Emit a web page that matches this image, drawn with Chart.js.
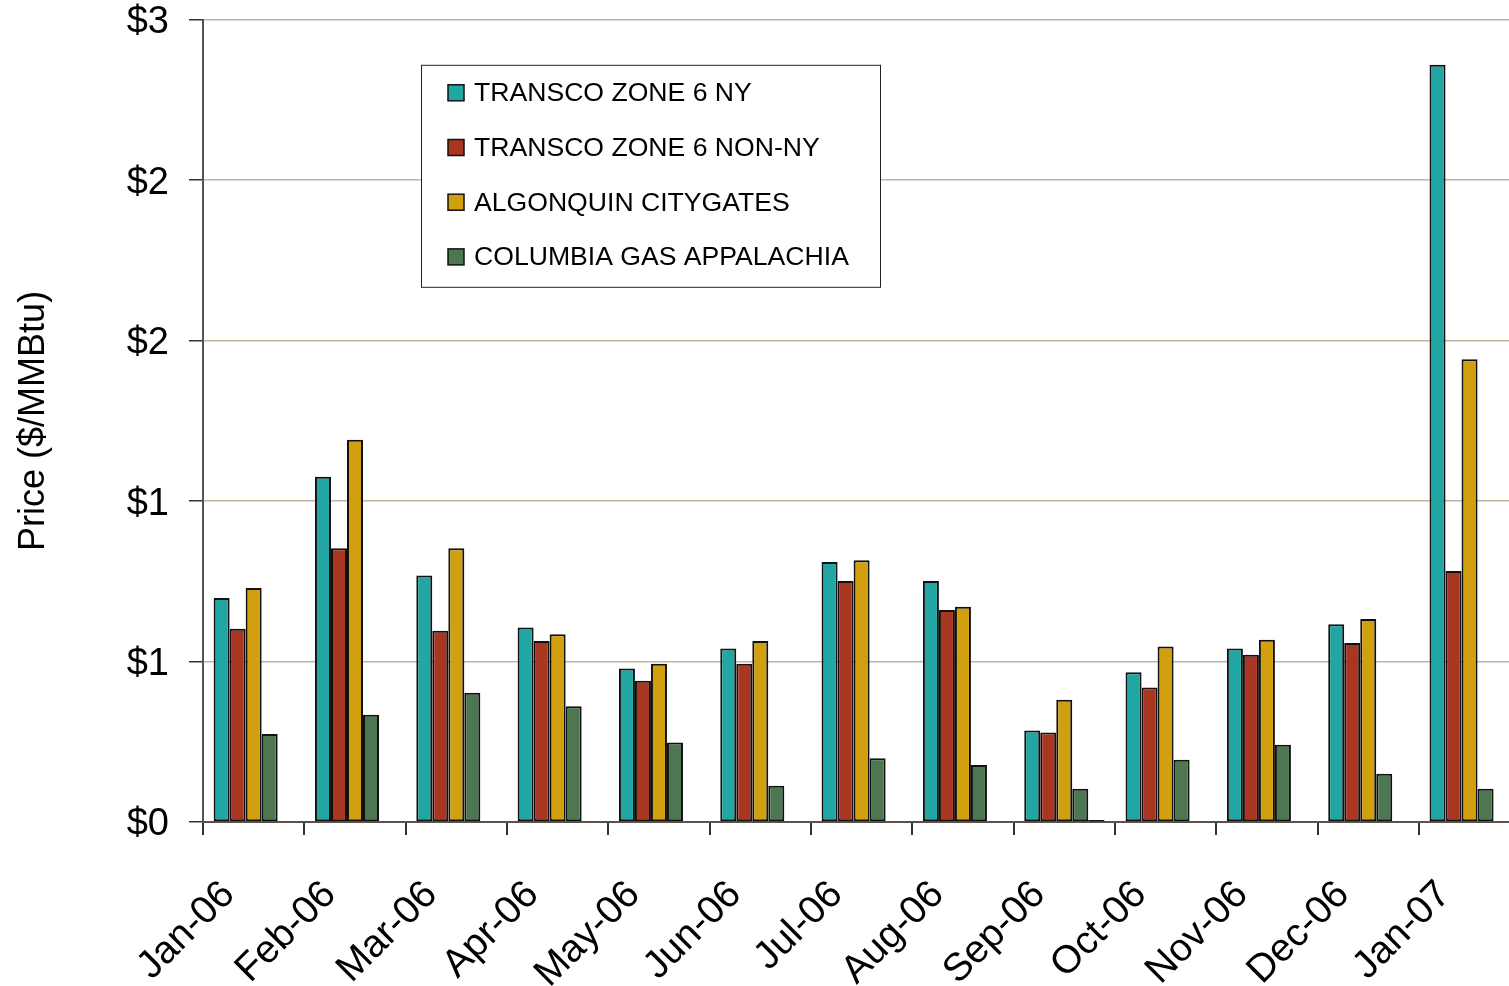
<!DOCTYPE html>
<html>
<head>
<meta charset="utf-8">
<script src="https://cdn.jsdelivr.net/npm/chart.js@4/dist/chart.umd.min.js"></script>
<style>
  html, body { margin: 0; padding: 0; background: #fff; }
  #wrap { width: 1509px; height: 986px; overflow: hidden; position: relative; }
  #inner { width: 1540px; height: 1009px; margin-top: -23px; }
  #priceChart { display: block; }
</style>
</head>
<body>
<div id="wrap"><div id="inner"><canvas id="priceChart" width="1540" height="1009"></canvas></div></div>
<script>
// months on the x axis
const months = ["Jan-06", "Feb-06", "Mar-06", "Apr-06", "May-06", "Jun-06", "Jul-06",
  "Aug-06", "Sep-06", "Oct-06", "Nov-06", "Dec-06", "Jan-07"];

// prices, $/MMBtu
const transcoNY = [0.698, 1.076, 0.768, 0.606, 0.478, 0.541, 0.810, 0.751, 0.285, 0.467, 0.541, 0.616, 2.360];
const transcoNonNY = [0.602, 0.853, 0.596, 0.564, 0.440, 0.493, 0.751, 0.661, 0.279, 0.419, 0.521, 0.558, 0.782];
const algonquin = [0.729, 1.191, 0.853, 0.585, 0.493, 0.564, 0.816, 0.671, 0.381, 0.547, 0.568, 0.633, 1.442];
const columbia = [0.274, 0.334, 0.403, 0.361, 0.248, 0.113, 0.199, 0.178, 0.104, 0.194, 0.241, 0.150, 0.104];
// fifth series with no legend entry (only a sliver in Sep-06)
const unlabeled = [0, 0, 0, 0, 0, 0, 0, 0, 0.006, 0, 0, 0, 0];

const seriesNames = ["TRANSCO ZONE 6 NY", "TRANSCO ZONE 6 NON-NY", "ALGONQUIN CITYGATES", "COLUMBIA GAS APPALACHIA"];
const seriesColors = ["#22a6a3", "#a93620", "#d2a00f", "#4d7750"];

const yTickValues = [0, 0.5, 1, 1.5, 2, 2.5];
const yTickLabels = ["$0", "$1", "$1", "$2", "$2", "$3"];

const FONT = "'Liberation Sans', Arial, sans-serif";

// legend box drawn inside the plot, placed from the plot's top-left corner
const boxLegend = {
  id: "boxLegend",
  afterDraw(chart) {
    const ctx = chart.ctx;
    const x0 = chart.chartArea.left + 218.5;
    const y0 = chart.chartArea.top + 45.5;
    ctx.save();
    ctx.fillStyle = "#ffffff";
    ctx.fillRect(x0, y0, 459, 222);
    ctx.strokeStyle = "#222";
    ctx.lineWidth = 1;
    ctx.strokeRect(x0, y0, 459, 222);
    ctx.font = "26.6px " + FONT;
    ctx.textBaseline = "middle";
    ctx.textAlign = "left";
    for (let i = 0; i < seriesNames.length; i++) {
      const y = y0 + 27.5 + i * 54.7;
      ctx.fillStyle = seriesColors[i];
      ctx.fillRect(x0 + 26.5, y - 8, 16, 16);
      ctx.strokeStyle = "#111";
      ctx.lineWidth = 1.5;
      ctx.strokeRect(x0 + 26.5, y - 8, 16, 16);
      ctx.fillStyle = "#000";
      ctx.fillText(seriesNames[i], x0 + 52.5, y + 1);
    }
    ctx.restore();
  }
};

const allSeries = [transcoNY, transcoNonNY, algonquin, columbia];
const datasets = allSeries.map((vals, i) => ({
  label: seriesNames[i],
  data: vals,
  backgroundColor: seriesColors[i],
  borderColor: "#111",
  borderWidth: 2,
  borderSkipped: false
}));
datasets.push({
  label: "",
  data: unlabeled,
  backgroundColor: "#111",
  borderColor: "#111",
  borderWidth: 0
});

const ctx = document.getElementById("priceChart").getContext("2d");
new Chart(ctx, {
  type: "bar",
  data: { labels: months, datasets: datasets },
  plugins: [boxLegend],
  options: {
    responsive: false,
    animation: false,
    layout: { padding: { top: 0, right: 9, left: 0, bottom: 0 } },
    datasets: { bar: { categoryPercentage: 0.79, barPercentage: 1.0 } },
    plugins: {
      legend: { display: false },
      tooltip: { enabled: false }
    },
    scales: {
      x: {
        grid: {
          offset: true,
          drawOnChartArea: false,
          tickLength: 13,
          tickColor: "#333",
          lineWidth: 2
        },
        border: { color: "#5a534c", width: 2 },
        ticks: {
          color: "#000",
          font: { family: FONT, size: 39 },
          minRotation: 45,
          maxRotation: 45,
          padding: 37,
          labelOffset: -25,
          autoSkip: false
        },
        afterFit(scale) { scale.height = 164; }
      },
      y: {
        min: 0,
        max: 2.5,
        afterBuildTicks(scale) {
          scale.ticks = yTickValues.map(v => ({ value: v }));
        },
        grid: {
          color: "#c4b49c",
          lineWidth: 1.5,
          tickLength: 14,
          tickColor: "#333"
        },
        border: { color: "#5a534c", width: 2 },
        ticks: {
          color: "#000",
          font: { family: FONT, size: 38 },
          padding: 20,
          labelOffset: 3,
          callback: (v, idx) => yTickLabels[idx]
        },
        title: {
          display: true,
          text: "Price ($/MMBtu)",
          color: "#000",
          font: { family: FONT, size: 36 },
          padding: { top: 12, bottom: 0 }
        },
        afterFit(scale) { scale.width = 203; }
      }
    }
  }
});
</script>
</body>
</html>
